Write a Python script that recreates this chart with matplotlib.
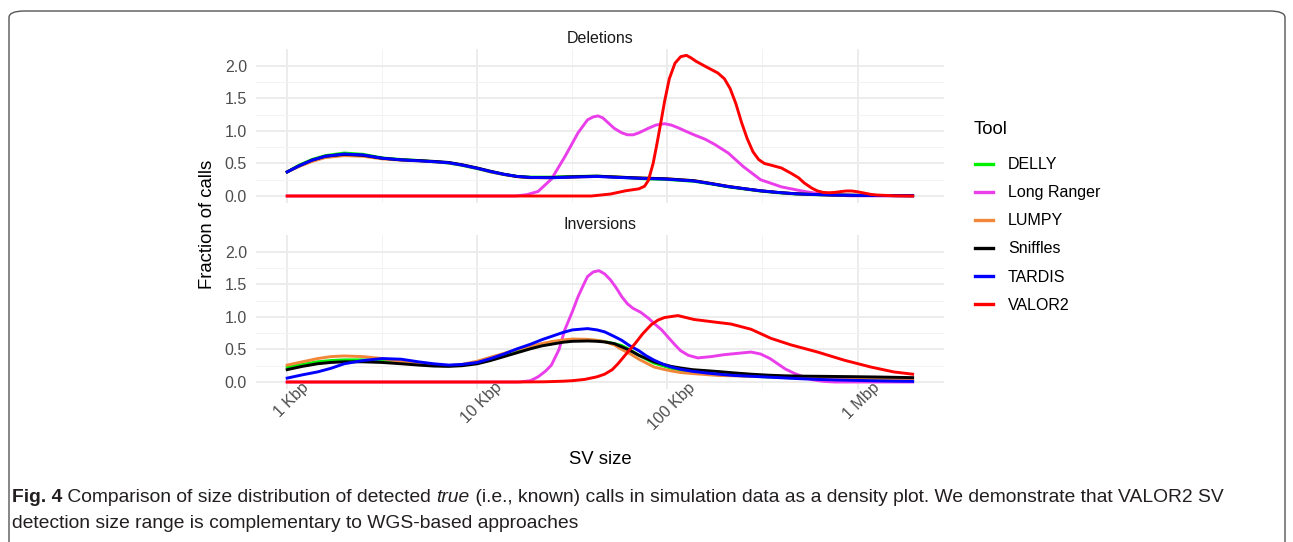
import numpy as np
import matplotlib
matplotlib.use("Agg")
import matplotlib.pyplot as plt
import matplotlib.transforms as mtransforms
from matplotlib.patches import FancyBboxPatch
from matplotlib.ticker import FixedLocator, NullFormatter

plt.rcParams['font.family'] = ['Liberation Sans', 'DejaVu Sans']

# --- data: x values are log10(SV size in bp), y is density (fraction of calls)
tools = ['DELLY', 'Long Ranger', 'LUMPY', 'Sniffles', 'TARDIS', 'VALOR2']
tool_colors = ['#00F000', '#EA3EEA', '#F2873A', '#000000', '#0000FF', '#FF0000']

# Deletions
del_short_log = [3.0, 3.06, 3.13, 3.2, 3.3, 3.4, 3.5, 3.6, 3.69, 3.78, 3.85, 3.92, 4.0, 4.07, 4.14,
                 4.21, 4.28, 4.39, 4.5, 4.63, 4.74, 4.87, 4.99, 5.14, 5.23, 5.32, 5.41, 5.49, 5.58,
                 5.67, 5.78, 5.88, 6.0, 6.15, 6.29]
del_delly = [0.37, 0.47, 0.56, 0.62, 0.66, 0.64, 0.585, 0.56, 0.545, 0.525, 0.505, 0.47, 0.42, 0.37,
             0.33, 0.30, 0.29, 0.29, 0.30, 0.305, 0.29, 0.265, 0.255, 0.225, 0.185, 0.14, 0.105,
             0.075, 0.05, 0.032, 0.02, 0.013, 0.009, 0.006, 0.004]
del_lumpy = [0.37, 0.45, 0.53, 0.59, 0.62, 0.61, 0.57, 0.55, 0.54, 0.525, 0.51, 0.475, 0.425, 0.37,
             0.33, 0.295, 0.28, 0.28, 0.29, 0.30, 0.29, 0.275, 0.265, 0.235, 0.195, 0.15, 0.11,
             0.08, 0.055, 0.036, 0.023, 0.016, 0.011, 0.008, 0.006]
del_sniffles = [0.37, 0.46, 0.55, 0.61, 0.64, 0.625, 0.58, 0.555, 0.545, 0.53, 0.515, 0.48, 0.43,
                0.38, 0.335, 0.30, 0.285, 0.285, 0.295, 0.305, 0.29, 0.275, 0.265, 0.235, 0.19,
                0.145, 0.11, 0.08, 0.055, 0.035, 0.022, 0.015, 0.01, 0.007, 0.005]
del_tardis = [0.37, 0.46, 0.55, 0.61, 0.645, 0.63, 0.58, 0.555, 0.54, 0.525, 0.51, 0.475, 0.425,
              0.375, 0.333, 0.30, 0.285, 0.28, 0.29, 0.30, 0.285, 0.27, 0.26, 0.23, 0.19, 0.145,
              0.11, 0.08, 0.055, 0.035, 0.022, 0.015, 0.01, 0.007, 0.005]

del_longranger_log = [3.0, 4.0, 4.2, 4.26, 4.32, 4.39, 4.46, 4.53, 4.58, 4.61, 4.635, 4.66, 4.69,
                      4.72, 4.76, 4.79, 4.82, 4.85, 4.9, 4.94, 4.985, 5.02, 5.055, 5.1, 5.14, 5.2,
                      5.25, 5.32, 5.4, 5.49, 5.6, 5.72, 5.83, 5.96, 6.29]
del_longranger = [0.0, 0.0, 0.0, 0.02, 0.07, 0.26, 0.6, 0.97, 1.17, 1.215, 1.23, 1.2, 1.12, 1.04,
                  0.97, 0.94, 0.94, 0.97, 1.04, 1.09, 1.11, 1.09, 1.05, 0.99, 0.94, 0.87, 0.79,
                  0.66, 0.45, 0.25, 0.14, 0.07, 0.02, 0.003, 0.0]

del_valor2_log = [3.0, 4.6, 4.7, 4.78, 4.85, 4.88, 4.9, 4.925, 4.945, 4.965, 4.985, 5.01, 5.04,
                  5.07, 5.1, 5.125, 5.15, 5.2, 5.265, 5.3, 5.33, 5.36, 5.39, 5.42, 5.45, 5.48,
                  5.51, 5.55, 5.6, 5.65, 5.69, 5.72, 5.76, 5.79, 5.82, 5.85, 5.88, 5.91, 5.94,
                  5.97, 6.0, 6.035, 6.07, 6.1, 6.2, 6.29]
del_valor2 = [0.0, 0.0, 0.03, 0.08, 0.11, 0.15, 0.24, 0.5, 0.8, 1.12, 1.45, 1.8, 2.04, 2.14, 2.16,
              2.12, 2.07, 1.99, 1.89, 1.8, 1.65, 1.42, 1.13, 0.88, 0.68, 0.56, 0.5, 0.47, 0.43,
              0.35, 0.28, 0.2, 0.12, 0.077, 0.055, 0.05, 0.055, 0.067, 0.077, 0.077, 0.065,
              0.045, 0.025, 0.015, 0.003, 0.0]

# Inversions
inv_short_log = [3.0, 3.08, 3.16, 3.23, 3.3, 3.4, 3.5, 3.6, 3.69, 3.77, 3.85, 3.92, 4.0, 4.07,
                 4.14, 4.21, 4.28, 4.34, 4.39, 4.45, 4.5, 4.58, 4.63, 4.67, 4.72, 4.76, 4.8, 4.85,
                 4.89, 4.93, 4.98, 5.02, 5.07, 5.13, 5.2, 5.27, 5.35, 5.44, 5.53, 5.62, 5.7, 5.79,
                 5.88, 5.97, 6.1, 6.2, 6.29]
inv_delly = [0.23, 0.27, 0.31, 0.33, 0.34, 0.34, 0.33, 0.30, 0.27, 0.255, 0.25, 0.265, 0.30, 0.35,
             0.42, 0.48, 0.53, 0.58, 0.61, 0.635, 0.645, 0.645, 0.635, 0.62, 0.59, 0.56, 0.50,
             0.41, 0.35, 0.29, 0.245, 0.21, 0.18, 0.155, 0.135, 0.12, 0.105, 0.088, 0.078, 0.067,
             0.058, 0.05, 0.043, 0.036, 0.027, 0.02, 0.015]
inv_lumpy = [0.26, 0.31, 0.36, 0.39, 0.40, 0.39, 0.36, 0.31, 0.27, 0.255, 0.25, 0.27, 0.32, 0.38,
             0.44, 0.50, 0.55, 0.59, 0.62, 0.645, 0.66, 0.655, 0.64, 0.62, 0.57, 0.50, 0.44, 0.35,
             0.29, 0.23, 0.195, 0.17, 0.145, 0.13, 0.115, 0.10, 0.095, 0.088, 0.082, 0.077, 0.072,
             0.067, 0.063, 0.06, 0.056, 0.053, 0.05]
inv_sniffles = [0.19, 0.24, 0.28, 0.30, 0.31, 0.31, 0.30, 0.28, 0.26, 0.245, 0.24, 0.25, 0.28,
                0.33, 0.39, 0.45, 0.51, 0.555, 0.58, 0.61, 0.625, 0.63, 0.625, 0.615, 0.59, 0.54,
                0.49, 0.41, 0.36, 0.31, 0.27, 0.24, 0.215, 0.19, 0.175, 0.16, 0.14, 0.12, 0.105,
                0.095, 0.09, 0.088, 0.085, 0.082, 0.077, 0.072, 0.067]
inv_tardis = [0.06, 0.11, 0.155, 0.21, 0.28, 0.33, 0.36, 0.35, 0.31, 0.28, 0.26, 0.27, 0.30, 0.36,
              0.43, 0.51, 0.58, 0.65, 0.70, 0.76, 0.80, 0.82, 0.80, 0.77, 0.70, 0.64, 0.56, 0.48,
              0.40, 0.335, 0.27, 0.23, 0.195, 0.165, 0.14, 0.12, 0.10, 0.088, 0.075, 0.062, 0.05,
              0.04, 0.032, 0.026, 0.018, 0.013, 0.01]

inv_longranger_log = [3.0, 4.0, 4.22, 4.28, 4.32, 4.36, 4.39, 4.43, 4.46, 4.5, 4.53, 4.56, 4.58,
                      4.61, 4.64, 4.67, 4.7, 4.73, 4.76, 4.79, 4.82, 4.86, 4.9, 4.93, 4.97, 5.0,
                      5.04, 5.07, 5.11, 5.16, 5.23, 5.3, 5.37, 5.44, 5.49, 5.54, 5.58, 5.62, 5.67,
                      5.72, 5.76, 5.82, 5.88, 6.0, 6.29]
inv_longranger = [0.0, 0.0, 0.0, 0.02, 0.08, 0.17, 0.26, 0.50, 0.80, 1.08, 1.31, 1.50, 1.62, 1.69,
                  1.71, 1.66, 1.57, 1.45, 1.31, 1.2, 1.13, 1.07, 0.98, 0.90, 0.80, 0.70, 0.57,
                  0.48, 0.41, 0.37, 0.39, 0.42, 0.44, 0.46, 0.43, 0.36, 0.28, 0.20, 0.13, 0.075,
                  0.036, 0.01, 0.0, 0.0, 0.0]

inv_valor2_log = [3.0, 4.2, 4.35, 4.45, 4.5, 4.565, 4.63, 4.67, 4.71, 4.74, 4.78, 4.83, 4.87,
                  4.915, 4.95, 4.985, 5.055, 5.14, 5.25, 5.335, 5.44, 5.545, 5.65, 5.79, 5.93,
                  6.07, 6.19, 6.29]
inv_valor2 = [0.0, 0.0, 0.003, 0.012, 0.02, 0.04, 0.08, 0.12, 0.19, 0.28, 0.42, 0.59, 0.74, 0.88,
              0.95, 0.99, 1.02, 0.96, 0.92, 0.89, 0.81, 0.67, 0.57, 0.46, 0.335, 0.23, 0.155, 0.12]

deletions = {
    'DELLY': (del_short_log, del_delly),
    'Long Ranger': (del_longranger_log, del_longranger),
    'LUMPY': (del_short_log, del_lumpy),
    'Sniffles': (del_short_log, del_sniffles),
    'TARDIS': (del_short_log, del_tardis),
    'VALOR2': (del_valor2_log, del_valor2),
}
inversions = {
    'DELLY': (inv_short_log, inv_delly),
    'Long Ranger': (inv_longranger_log, inv_longranger),
    'LUMPY': (inv_short_log, inv_lumpy),
    'Sniffles': (inv_short_log, inv_sniffles),
    'TARDIS': (inv_short_log, inv_tardis),
    'VALOR2': (inv_valor2_log, inv_valor2),
}

x_tick_pos = [1e3, 1e4, 1e5, 1e6]
x_tick_labels = ['1 Kbp', '10 Kbp', '100 Kbp', '1 Mbp']
y_ticks = [0.0, 0.5, 1.0, 1.5, 2.0]

W, H = 1293, 542
fig = plt.figure(figsize=(W / 100, H / 100), dpi=100)


def fx(px):
    return px / W


def fy(py):
    return 1 - py / H


# outer frame round the figure (open at the bottom, as in the page crop)
frame = FancyBboxPatch((fx(9), fy(560)), fx(1285) - fx(9), fy(11) - fy(560),
                       boxstyle="round,pad=0,rounding_size=0.012", transform=fig.transFigure,
                       facecolor='none', edgecolor='#555555', linewidth=1.0)
fig.patches.append(frame)

ax_del = fig.add_axes([fx(256), fy(203), fx(944) - fx(256), fy(49) - fy(203)])
ax_inv = fig.add_axes([fx(256), fy(389), fx(944) - fx(256), fy(235) - fy(389)])

for ax, data, title in [(ax_del, deletions, 'Deletions'), (ax_inv, inversions, 'Inversions')]:
    for tool, col in zip(tools, tool_colors):
        xs, ys = data[tool]
        ax.plot(np.power(10.0, xs), ys, color=col, lw=2.1, solid_joinstyle='round', zorder=3)
    ax.set_xscale('log')
    ax.set_xlim(10 ** 2.836, 10 ** 6.455)
    ax.set_ylim(-0.1075, 2.2575)
    ax.xaxis.set_major_locator(FixedLocator(x_tick_pos))
    ax.xaxis.set_minor_locator(FixedLocator([10 ** 3.5, 10 ** 4.5, 10 ** 5.5]))
    ax.xaxis.set_minor_formatter(NullFormatter())
    ax.set_yticks(y_ticks)
    ax.set_yticklabels(['0.0', '0.5', '1.0', '1.5', '2.0'])
    ax.yaxis.set_minor_locator(FixedLocator([0.25, 0.75, 1.25, 1.75]))
    ax.grid(which='major', color='#EBEBEB', lw=1.3, zorder=0)
    ax.grid(which='minor', color='#F2F2F2', lw=0.7, zorder=0)
    ax.set_axisbelow(True)
    for s in ax.spines.values():
        s.set_visible(False)
    ax.tick_params(which='both', length=0)
    ax.tick_params(axis='y', labelsize=11.5, labelcolor='#4D4D4D', pad=6.5)
    ax.set_title(title, fontsize=11.5, color='#1A1A1A', pad=4)

ax_del.set_xticklabels([])
ax_inv.set_xticklabels(x_tick_labels, rotation=45, ha='center', va='top',
                       fontsize=11.5, color='#4D4D4D')
ax_inv.tick_params(axis='x', pad=0)
# nudge the slanted labels up and a little right, as in the original
nudge = mtransforms.ScaledTranslation(4 / 100, 9 / 100, fig.dpi_scale_trans)
for lab in ax_inv.get_xticklabels():
    lab.set_transform(lab.get_transform() + nudge)

fig.text(fx(207), fy(224), 'Fraction of calls', rotation=90, ha='center', va='center',
         fontsize=13.3, color='black')
fig.text(fx(600), fy(460), 'SV size', ha='center', va='center', fontsize=13.3, color='black')

# legend (title drawn on its own so the gap to the first key can be set)
fig.text(fx(974), fy(130), 'Tool', ha='left', va='center', fontsize=13.3, color='black')
handles = [plt.Line2D([], [], color=c, lw=2.4) for c in tool_colors]
leg = fig.legend(handles, tools, loc='upper left',
                 bbox_to_anchor=(fx(964), fy(146)), frameon=False, fontsize=11.5,
                 handlelength=1.1, handletextpad=0.95, labelspacing=0.82,
                 borderpad=0.2)

# caption, written piece by piece so that bold/italic runs follow on
renderer = fig.canvas.get_renderer()
cap_font = ['Liberation Sans', 'DejaVu Sans']
cap_size = 13.9
cap_color = '#231F20'


def write_run(x_px, y_px, pieces):
    for txt, weight, style in pieces:
        t = fig.text(fx(x_px), fy(y_px), txt, fontsize=cap_size, family=cap_font,
                     weight=weight, style=style, color=cap_color, ha='left', va='baseline')
        bb = t.get_window_extent(renderer=renderer)
        x_px += bb.width


write_run(12, 502, [('Fig. 4', 'bold', 'normal'),
                    (' Comparison of size distribution of detected ', 'normal', 'normal'),
                    ('true', 'normal', 'italic'),
                    (' (i.e., known) calls in simulation data as a density plot. We demonstrate '
                     'that VALOR2 SV', 'normal', 'normal')])
write_run(12, 528, [('detection size range is complementary to WGS-based approaches',
                     'normal', 'normal')])

fig.savefig('out.png', dpi=100)
plt.close(fig)
